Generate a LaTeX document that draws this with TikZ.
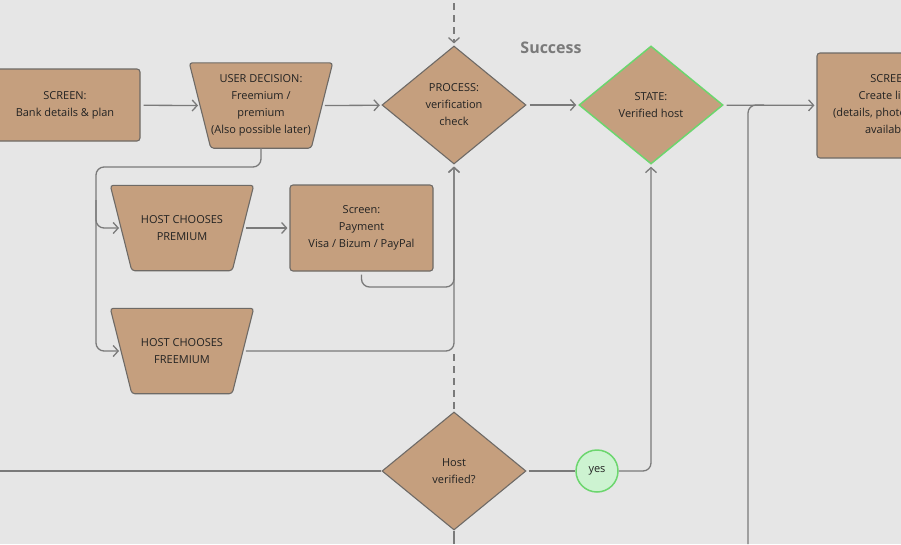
\documentclass[tikz,border=0pt]{standalone}
\usepackage{fontspec}
\setmainfont{Open Sans}
\usetikzlibrary{shapes.geometric,arrows.meta,backgrounds}
\definecolor{bgGray}{HTML}{E6E6E6}
\definecolor{lineGray}{HTML}{7A7A7A}
\definecolor{edgeGray}{HTML}{6E6A66}
\definecolor{tan}{HTML}{C59F7E}
\definecolor{okGreen}{HTML}{6CD66E}
\definecolor{yesFill}{HTML}{CDF3D1}
\definecolor{inkDark}{HTML}{222222}
\begin{document}
\begin{tikzpicture}[x=1pt, y=-1pt,
		every node/.style={font=\fontsize{11}{17}\selectfont, text=inkDark, align=center},
		card/.style={rectangle, draw=edgeGray, fill=tan, line width=1.1pt, rounded corners=3pt},
		choice/.style={rectangle, inner sep=0pt, minimum width=143pt, minimum height=85pt},
		choiceline/.style={draw=edgeGray, fill=tan, line width=1.1pt, rounded corners=3pt},
		gate/.style={diamond, draw=edgeGray, fill=tan, line width=1.1pt, inner sep=0pt,
			minimum width=144pt, minimum height=118pt},
		flow/.style={draw=lineGray, line width=1.3pt, rounded corners=8pt},
		arr/.style={flow, -{Straight Barb[length=5pt,width=11pt]}, shorten >=2pt, shorten <=3pt},
		]
		
		% Canvas
		\useasboundingbox (0,0) rectangle (901,544);
		\clip (0,0) rectangle (901,544);
		
		% Top row
		\node[card, minimum width=150pt, minimum height=72pt] (bank) at (65,105)
		{SCREEN:\\Bank details \& plan};
		\node[choice] (decision) at (261,105.5)
		{USER DECISION:\\Freemium /\\premium\\(Also possible later)};
		\node[gate] (process) at (454,105) {PROCESS:\\verification\\check};
		\node[gate, draw=okGreen, line width=1.5pt] (verified) at (651,105)
		{STATE:\\Verified host};
		\node[card, minimum width=150pt, minimum height=105pt] (listing) at (892,105.5)
		{SCREEN:\\Create listing\\(details, photos, prices)\\availability};
		
		\node[font=\fontsize{16}{18}\selectfont\bfseries, text=lineGray] (success) at (551,48) {Success};
		
		% Plan choices
		\node[choice] (premium) at (182,228) {HOST CHOOSES\\PREMIUM};
		\node[card, minimum width=143pt, minimum height=86pt] (payment) at (361.5,228)
		{Screen:\\Payment\\Visa / Bizum / PayPal};
		\node[choice] (freemium) at (182,351) {HOST CHOOSES\\FREEMIUM};
		
		% Bottom check
		\node[gate] (hostcheck) at (454,471) {Host\\verified?};
		\node[circle, draw=okGreen, fill=yesFill, line width=1.5pt, minimum size=42pt, inner sep=0pt]
		(yes) at (597,471) {yes};
		
		% Trapezoid outlines behind the choice texts
		\begin{scope}[on background layer]
			\fill[bgGray] (0,0) rectangle (901,544);
			\foreach \n in {decision,premium,freemium}
			\path[choiceline] (\n.north west) -- (\n.north east)
			-- ([xshift=-21.5pt]\n.south east) -- ([xshift=21.5pt]\n.south west) -- cycle;
		\end{scope}
		
		% Free ends
		\coordinate (topin) at (454,0);
		\coordinate (split) at (96,167);
		\coordinate (premsplit) at (96,200);
		\coordinate (payjoin) at (454,287);
		\coordinate (dashtop) at (454,354);
		\coordinate (leftend) at (0,471);
		\coordinate (checkend) at (454,544);
		\coordinate (branch) at (764,105);
		\coordinate (branchend) at (748,544);
		
		% Connectors, top row
		\draw[arr] (bank) -- ([xshift=10.75pt]decision.west);
		\draw[arr] ([xshift=-10.75pt]decision.east) -- (process);
		\draw[arr, dashed, dash pattern=on 7pt off 5pt] (topin) -- (process.north);
		\draw[arr] (process) -- (verified);
		\draw[arr] (verified) -- (listing);
		\draw[flow] (branch) -| (branchend);
		
		% Connectors, plan choices
		\draw[arr, shorten <=0pt] (decision.south) |- (split) |- ([xshift=10.75pt]freemium.west);
		\draw[arr, shorten <=0pt] (premsplit) |- ([xshift=10.75pt]premium.west);
		\draw[arr] ([xshift=-10.75pt]premium.east) -- (payment);
		\draw[arr] (payment.south) |- (payjoin) -- (process.south);
		\draw[arr] ([xshift=-10.75pt]freemium.east) -| (process.south);
		
		% Connectors, bottom check
		\draw[flow, dashed, dash pattern=on 7pt off 5pt] (dashtop) -- (hostcheck.north);
		\draw[flow] (leftend) -- (hostcheck.west);
		\draw[flow] (hostcheck.south) -- (checkend);
		\draw[flow, shorten <=2pt] (hostcheck.east) -- (yes.west);
		\draw[arr, shorten <=0pt] (yes.east) -| (verified.south);
		
	\end{tikzpicture}
\end{document}
